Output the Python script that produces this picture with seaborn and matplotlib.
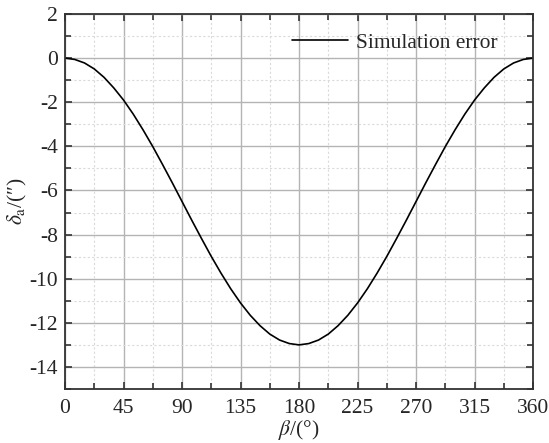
import numpy as np
import pandas as pd
import seaborn as sns
import matplotlib.pyplot as plt
from matplotlib.ticker import MultipleLocator

# angulo beta (graus) e erro
beta = [0, 7.5, 15, 22.5, 30, 37.5, 45, 52.5, 60, 67.5, 75, 82.5, 90,
        97.5, 105, 112.5, 120, 127.5, 135, 142.5, 150, 157.5, 165, 172.5, 180,
        187.5, 195, 202.5, 210, 217.5, 225, 232.5, 240, 247.5, 255, 262.5, 270,
        277.5, 285, 292.5, 300, 307.5, 315, 322.5, 330, 337.5, 345, 352.5, 360]
erro = [0, -0.06, -0.22, -0.49, -0.87, -1.35, -1.90, -2.54, -3.25, -4.01, -4.82, -5.65, -6.5,
        -7.35, -8.18, -8.99, -9.75, -10.46, -11.10, -11.66, -12.13, -12.51, -12.78, -12.94, -13.0,
        -12.94, -12.78, -12.51, -12.13, -11.66, -11.10, -10.46, -9.75, -8.99, -8.18, -7.35, -6.5,
        -5.65, -4.82, -4.01, -3.25, -2.54, -1.90, -1.35, -0.87, -0.49, -0.22, -0.06, 0]
xticks = [0, 45, 90, 135, 180, 225, 270, 315, 360]
yticks = [2, 0, -2, -4, -6, -8, -10, -12, -14]

dados = pd.DataFrame({"beta": beta, "erro": erro})

sns.set_style("ticks")
plt.rcParams['font.family'] = ['Liberation Serif', 'DejaVu Serif']
plt.rcParams['mathtext.fontset'] = 'stix'
plt.rcParams['axes.unicode_minus'] = False

fig = plt.figure(figsize=(5.49, 4.43), dpi=100)
ax = fig.add_axes([0.1184, 0.1219, 0.8526, 0.8465])

sns.lineplot(data=dados, x="beta", y="erro", ax=ax, color="black", linewidth=1.2,
             label="Simulation error")

ax.set_xlim(0, 360)
ax.set_ylim(-15, 2)
ax.set_xticks(xticks)
ax.set_yticks(yticks)
ax.xaxis.set_minor_locator(MultipleLocator(22.5))
ax.yaxis.set_minor_locator(MultipleLocator(1))
ax.grid(which="major", color="#b4b4b4", linewidth=1.0)
ax.grid(which="minor", color="#dadada", linewidth=0.8, linestyle=(0, (2, 2)))
ax.set_axisbelow(True)
ax.tick_params(which="both", direction="in", top=True, right=True, labelsize=15.5,
               width=1.2, color="#333333")
ax.tick_params(axis="x", which="major", pad=7)
ax.tick_params(axis="y", which="major", pad=5)
ax.tick_params(which="major", length=5)
ax.tick_params(which="minor", length=4)
for s in ax.spines.values():
    s.set_linewidth(1.3)
    s.set_color("#333333")

ax.set_xlabel(r"$\beta$/(°)", fontsize=15.5, labelpad=0)
ax.set_ylabel(r"$\delta_{\mathrm{a}}$/(″)", fontsize=15.5, labelpad=0)

ax.legend(loc="center right", bbox_to_anchor=(0.925, 0.923), frameon=False,
          fontsize=15.5, handlelength=2.6, handletextpad=0.4,
          borderaxespad=0, borderpad=0)

plt.savefig("out.png", dpi=100)
